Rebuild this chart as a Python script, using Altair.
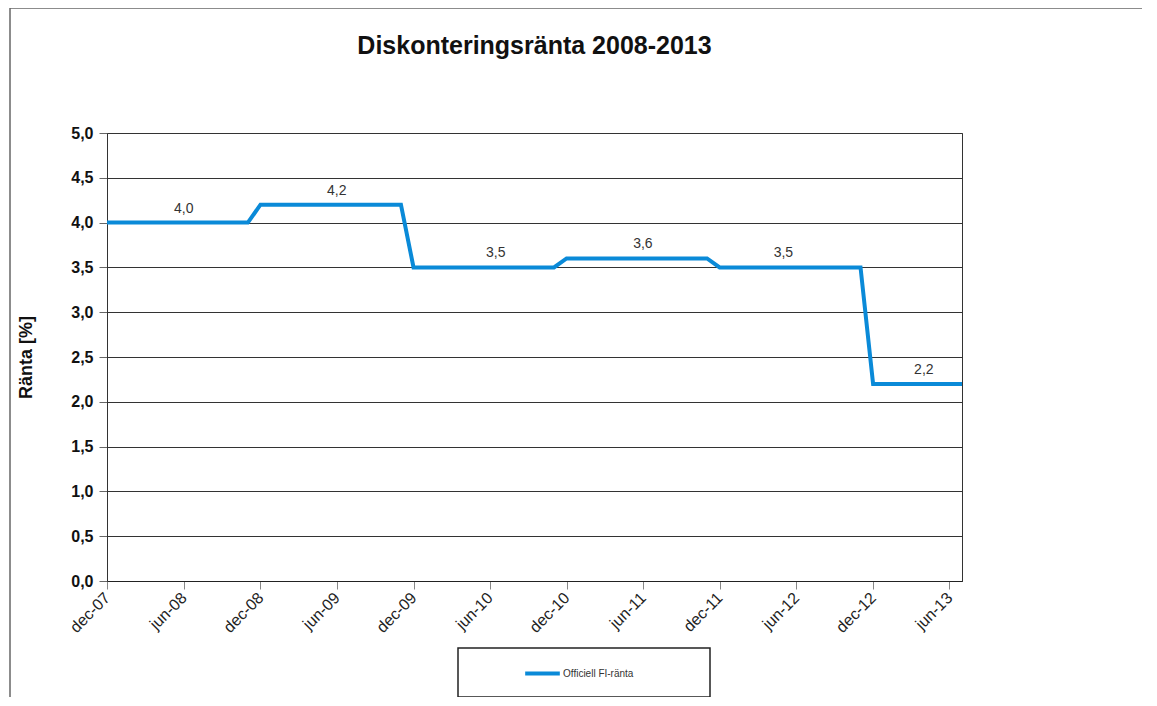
import altair as alt
import pandas as pd

# Change points of the rate series (linear between consecutive months)
change_dates = ["2007-12-01", "2008-11-01", "2008-12-01", "2009-11-01", "2009-12-01",
                "2010-11-01", "2010-12-01", "2011-11-01", "2011-12-01", "2012-11-01",
                "2012-12-01", "2013-07-01"]
change_values = [4.0, 4.0, 4.2, 4.2, 3.5, 3.5, 3.6, 3.6, 3.5, 3.5, 2.2, 2.2]

label_dates = ["2008-06-01", "2009-06-01", "2010-06-15", "2011-06-01", "2012-05-01", "2013-04-01"]
label_values = [4.0, 4.2, 3.5, 3.6, 3.5, 2.2]

series_name = "Officiell FI-ränta"
title_text = "Diskonteringsränta 2008-2013"
y_title = "Ränta [%]"
y_ticks = [0.0, 0.5, 1.0, 1.5, 2.0, 2.5, 3.0, 3.5, 4.0, 4.5, 5.0]
x_tick_months = [(2007, 12), (2008, 6), (2008, 12), (2009, 6), (2009, 12), (2010, 6),
                 (2010, 12), (2011, 6), (2011, 12), (2012, 6), (2012, 12), (2013, 6)]

FONT = "Liberation Sans"
BLUE = "#0a8ad8"

line_df = pd.DataFrame({"date": change_dates, "value": change_values, "series": series_name})
label_df = pd.DataFrame({
    "date": label_dates,
    "value": label_values,
    "text": [f"{v:.1f}".replace(".", ",") for v in label_values],
})

x_scale = alt.Scale(
    type="utc",
    domain=[alt.DateTime(year=2007, month=12, date=1, utc=True),
            alt.DateTime(year=2013, month=7, date=1, utc=True)],
)
y_scale = alt.Scale(domain=[0, 5], nice=False)

x_axis = alt.Axis(
    values=[alt.DateTime(year=y, month=m, date=1, utc=True) for y, m in x_tick_months],
    labelExpr="lower(utcFormat(datum.value, '%b-%y'))",
    labelAngle=-45, labelAlign="right", labelBaseline="middle",
    labelFont=FONT, labelFontSize=16, labelColor="#222", labelPadding=6,
    grid=False, tickSize=8, tickColor="#888", domainColor="#222", title=None,
)
y_axis = alt.Axis(
    values=y_ticks,
    labelExpr="replace(format(datum.value, '.1f'), '.', ',')",
    labelFont=FONT, labelFontSize=16, labelFontWeight="bold", labelColor="#111",
    labelPadding=6, tickSize=8, tickColor="#666", domainColor="#333",
    grid=True, gridColor="#333", gridWidth=1,
    title=y_title, titleFont=FONT, titleFontSize=18, titleFontWeight="bold",
    titleColor="#111", titleX=-72, titleY=224,
)

line = alt.Chart(line_df).mark_line(strokeWidth=4).encode(
    x=alt.X("date:T", scale=x_scale, axis=x_axis),
    y=alt.Y("value:Q", scale=y_scale, axis=y_axis),
    color=alt.Color("series:N",
                    scale=alt.Scale(domain=[series_name], range=[BLUE]),
                    legend=alt.Legend(
                        title=None, orient="none", legendX=416, legendY=521,
                        symbolType="stroke", symbolStrokeWidth=4, symbolSize=1200,
                        labelFont=FONT, labelFontSize=10, labelColor="#333",
                        labelOffset=1, padding=0,
                    )),
)

labels = alt.Chart(label_df).mark_text(
    dy=-14, font=FONT, fontSize=14, color="#333"
).encode(
    x=alt.X("date:T", scale=x_scale),
    y=alt.Y("value:Q", scale=y_scale),
    text="text:N",
)

dummy = pd.DataFrame({"a": [0]})
legend_box = alt.Chart(dummy).mark_rect(fill="white", stroke="#222", strokeWidth=1.5).encode(
    x=alt.value(351), x2=alt.value(603), y=alt.value(515), y2=alt.value(564)
)
frame_left = alt.Chart(dummy).mark_rule(color="#666", strokeWidth=1.5).encode(
    x=alt.value(-97), y=alt.value(-125), y2=alt.value(572)
)
frame_top = alt.Chart(dummy).mark_rule(color="#666", strokeWidth=1.5).encode(
    x=alt.value(-97), x2=alt.value(1045), y=alt.value(-125)
)

chart = alt.layer(frame_left, frame_top, legend_box, line, labels).properties(
    width=855, height=448,
    title=alt.TitleParams(text=title_text, font=FONT, fontSize=25, fontWeight="bold",
                          color="#111", anchor="middle", offset=-52),
    autosize=alt.AutoSizeParams(type="none"),
    padding={"left": 99, "top": 125, "right": 180, "bottom": 116},
).configure_view(stroke="#333", strokeWidth=1)

chart.save("out.html", embed_options={"renderer": "svg", "actions": False})
